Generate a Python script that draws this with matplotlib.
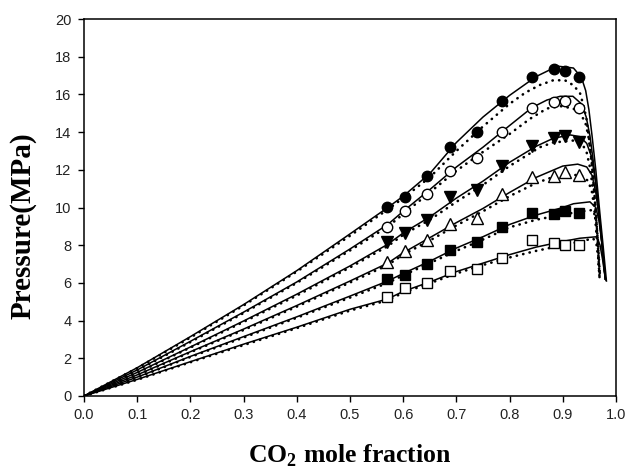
import matplotlib
matplotlib.use("Agg")
import matplotlib.pyplot as plt

plt.rcParams['mathtext.fontset'] = 'custom'
plt.rcParams['mathtext.rm'] = 'Liberation Serif:bold'
plt.rcParams['mathtext.bf'] = 'Liberation Serif:bold'

# Experimental points (CO2 mole fraction, pressure MPa)
exp_x = [0.570, 0.603, 0.645, 0.688, 0.738, 0.786, 0.842, 0.884, 0.905, 0.930]
exp_p1 = [10.03, 10.56, 11.67, 13.22, 14.00, 15.65, 16.92, 17.35, 17.24, 16.94]
exp_p2 = [8.97, 9.83, 10.70, 11.94, 12.60, 14.03, 15.26, 15.60, 15.65, 15.29]
exp_p3 = [8.15, 8.67, 9.34, 10.55, 10.93, 12.20, 13.24, 13.71, 13.77, 13.45]
exp_p4 = [7.10, 7.69, 8.26, 9.14, 9.44, 10.74, 11.62, 11.65, 11.90, 11.70]
exp_p5 = [6.20, 6.42, 7.02, 7.77, 8.16, 8.97, 9.73, 9.66, 9.79, 9.73]
exp_p6 = [5.27, 5.73, 6.02, 6.63, 6.76, 7.33, 8.30, 8.12, 8.03, 8.00]

# Model curves (solid)
sol_x1 = [0, 0.1, 0.2, 0.3, 0.4, 0.5, 0.571, 0.6, 0.65, 0.7, 0.75, 0.8, 0.85, 0.89, 0.92, 0.935, 0.943, 0.949, 0.955, 0.962, 0.970, 0.976, 0.982]
sol_p1 = [0, 1.5, 3.15, 4.85, 6.65, 8.6, 10.0, 10.6, 11.8, 13.45, 14.8, 15.95, 16.95, 17.5, 17.4, 16.9, 16.2, 15.2, 13.8, 12.0, 9.6, 7.9, 6.1]
sol_x2 = [0, 0.1, 0.2, 0.3, 0.4, 0.5, 0.571, 0.6, 0.65, 0.7, 0.75, 0.8, 0.842, 0.87, 0.895, 0.919, 0.935, 0.944, 0.951, 0.958, 0.965, 0.972, 0.978, 0.981]
sol_p2 = [0, 1.38, 2.9, 4.45, 6.05, 7.8, 9.1, 9.8, 10.95, 12.15, 13.2, 14.35, 15.3, 15.7, 15.9, 15.9, 15.5, 14.8, 13.8, 12.3, 10.5, 8.5, 6.6, 6.15]
sol_x3 = [0, 0.1, 0.2, 0.3, 0.4, 0.5, 0.571, 0.6, 0.65, 0.7, 0.75, 0.8, 0.85, 0.882, 0.914, 0.932, 0.945, 0.954, 0.962, 0.968, 0.974, 0.98]
sol_p3 = [0, 1.25, 2.6, 3.98, 5.4, 6.9, 8.05, 8.65, 9.5, 10.5, 11.4, 12.4, 13.25, 13.67, 13.85, 13.76, 13.4, 12.7, 11.3, 9.8, 8.0, 6.2]
sol_x4 = [0, 0.1, 0.2, 0.3, 0.4, 0.5, 0.571, 0.6, 0.65, 0.7, 0.75, 0.8, 0.85, 0.9, 0.928, 0.945, 0.955, 0.962, 0.968, 0.974, 0.98]
sol_p4 = [0, 1.12, 2.35, 3.55, 4.8, 6.1, 7.05, 7.6, 8.4, 9.2, 9.95, 10.8, 11.6, 12.2, 12.3, 12.15, 11.7, 10.8, 9.5, 8.0, 6.2]
sol_x5 = [0, 0.1, 0.2, 0.3, 0.4, 0.5, 0.571, 0.6, 0.65, 0.7, 0.75, 0.8, 0.85, 0.9, 0.92, 0.951, 0.962, 0.968, 0.974, 0.98]
sol_p5 = [0, 1.0, 2.1, 3.15, 4.2, 5.3, 6.1, 6.5, 7.15, 7.85, 8.45, 9.1, 9.6, 10.0, 10.2, 10.3, 10.0, 9.3, 8.0, 6.2]
sol_x6 = [0, 0.1, 0.2, 0.3, 0.4, 0.5, 0.571, 0.6, 0.65, 0.7, 0.75, 0.8, 0.85, 0.9, 0.932, 0.964, 0.97, 0.975, 0.98]
sol_p6 = [0, 0.88, 1.82, 2.75, 3.65, 4.6, 5.15, 5.55, 6.05, 6.6, 7.05, 7.5, 7.9, 8.2, 8.37, 8.45, 8.0, 7.2, 6.2]

# Model curves (dotted)
dot_x1 = [0, 0.1, 0.2, 0.3, 0.4, 0.5, 0.571, 0.6, 0.65, 0.7, 0.75, 0.8, 0.83, 0.857, 0.882, 0.904, 0.919, 0.932, 0.938, 0.944, 0.950, 0.956, 0.962, 0.966, 0.969]
dot_p1 = [0, 1.48, 3.1, 4.8, 6.6, 8.5, 9.9, 10.5, 11.6, 13.0, 14.3, 15.5, 16.1, 16.5, 16.75, 16.75, 16.5, 16.1, 15.5, 14.8, 13.5, 11.8, 9.8, 8.0, 6.3]
dot_x2 = [0, 0.1, 0.2, 0.3, 0.4, 0.5, 0.571, 0.6, 0.65, 0.7, 0.75, 0.8, 0.838, 0.87, 0.895, 0.919, 0.932, 0.942, 0.948, 0.954, 0.96, 0.965, 0.969]
dot_p2 = [0, 1.36, 2.86, 4.4, 6.0, 7.72, 8.98, 9.65, 10.8, 11.95, 12.95, 13.9, 14.7, 15.25, 15.38, 15.26, 15.0, 14.55, 13.8, 12.5, 10.5, 8.5, 6.3]
dot_x3 = [0, 0.1, 0.2, 0.3, 0.4, 0.5, 0.571, 0.6, 0.65, 0.7, 0.75, 0.8, 0.857, 0.882, 0.919, 0.938, 0.945, 0.952, 0.958, 0.963, 0.967, 0.969]
dot_p3 = [0, 1.23, 2.57, 3.93, 5.33, 6.82, 7.95, 8.55, 9.35, 10.3, 11.2, 12.2, 13.2, 13.45, 13.55, 13.3, 12.9, 12.0, 10.5, 8.8, 7.3, 6.3]
dot_x4 = [0, 0.1, 0.2, 0.3, 0.4, 0.5, 0.571, 0.6, 0.65, 0.7, 0.75, 0.8, 0.85, 0.88, 0.91, 0.935, 0.948, 0.955, 0.96, 0.964, 0.967, 0.969]
dot_p4 = [0, 1.1, 2.32, 3.5, 4.74, 6.02, 6.95, 7.5, 8.25, 9.05, 9.8, 10.6, 11.3, 11.6, 11.75, 11.7, 11.4, 10.8, 9.8, 8.5, 7.3, 6.3]
dot_x5 = [0, 0.1, 0.2, 0.3, 0.4, 0.5, 0.571, 0.6, 0.65, 0.7, 0.75, 0.8, 0.85, 0.895, 0.932, 0.957, 0.963, 0.966, 0.968, 0.97]
dot_p5 = [0, 0.98, 2.07, 3.1, 4.15, 5.22, 6.0, 6.4, 7.05, 7.7, 8.3, 8.95, 9.35, 9.6, 9.78, 9.87, 9.3, 8.2, 7.2, 6.3]
dot_x6 = [0, 0.1, 0.2, 0.3, 0.4, 0.5, 0.571, 0.6, 0.65, 0.7, 0.75, 0.8, 0.85, 0.9, 0.932, 0.957, 0.963, 0.966, 0.968, 0.97]
dot_p6 = [0, 0.86, 1.79, 2.7, 3.6, 4.53, 5.08, 5.48, 5.98, 6.5, 6.95, 7.35, 7.7, 8.0, 8.19, 8.36, 8.1, 7.5, 6.9, 6.3]

x_ticks = [0.0, 0.1, 0.2, 0.3, 0.4, 0.5, 0.6, 0.7, 0.8, 0.9, 1.0]
y_ticks = [0, 2, 4, 6, 8, 10, 12, 14, 16, 18, 20]

fig = plt.figure(figsize=(6.32, 4.73), dpi=100)
ax = fig.add_axes([0.1329, 0.1628, 0.8418, 0.7970])

sols = [(sol_x1, sol_p1), (sol_x2, sol_p2), (sol_x3, sol_p3), (sol_x4, sol_p4), (sol_x5, sol_p5), (sol_x6, sol_p6)]
dots = [(dot_x1, dot_p1), (dot_x2, dot_p2), (dot_x3, dot_p3), (dot_x4, dot_p4), (dot_x5, dot_p5), (dot_x6, dot_p6)]
for (sx, sp), (dx, dp) in zip(sols, dots):
    ax.plot(sx, sp, color='black', lw=1.1, zorder=2)
    ax.plot(dx, dp, color='black', lw=1.9, linestyle=(0, (0.1, 2.4)),
            dash_capstyle='round', zorder=2)

ms = 7.5
ax.plot(exp_x, exp_p1, 'o', ms=ms, mfc='black', mec='black', mew=1, zorder=3)
ax.plot(exp_x, exp_p2, 'o', ms=ms, mfc='white', mec='black', mew=1, zorder=3)
ax.plot(exp_x, exp_p3, 'v', ms=ms + 0.5, mfc='black', mec='black', mew=1, zorder=3)
ax.plot(exp_x, exp_p4, '^', ms=ms + 0.5, mfc='white', mec='black', mew=1, zorder=3)
ax.plot(exp_x, exp_p5, 's', ms=ms - 0.5, mfc='black', mec='black', mew=1, zorder=3)
ax.plot(exp_x, exp_p6, 's', ms=ms - 0.5, mfc='white', mec='black', mew=1, zorder=3)

ax.set_xlim(0, 1.0)
ax.set_ylim(0, 20)
ax.set_xticks(x_ticks)
ax.set_xticklabels([f"{t:.1f}" for t in x_ticks])
ax.set_yticks(y_ticks)
ax.set_yticklabels([str(t) for t in y_ticks])
ax.tick_params(direction='out', length=4, width=1, labelsize=10.5, colors='black', pad=5)
for lab in ax.get_xticklabels() + ax.get_yticklabels():
    lab.set_fontfamily('Liberation Sans')
    lab.set_color('#222222')
for sp in ax.spines.values():
    sp.set_linewidth(1.1)

fig.text(350 / 632, 1 - 456 / 473, r'CO$_{2}$ mole fraction', fontfamily='Liberation Serif',
         fontweight='bold', fontsize=18.5, ha='center', va='center')
fig.text(23 / 632, 1 - 226 / 473, 'Pressure(MPa)', fontfamily='Liberation Serif',
         fontweight='bold', fontsize=21, ha='center', va='center', rotation=90)

fig.savefig('out.png', dpi=100)
